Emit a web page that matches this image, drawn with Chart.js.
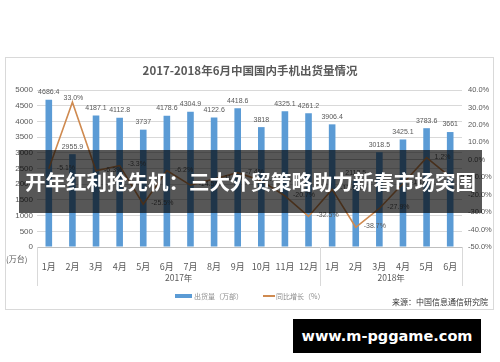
<!DOCTYPE html>
<html>
<head>
<meta charset="utf-8">
<script src="https://cdn.jsdelivr.net/npm/chart.js@4/dist/chart.umd.min.js"></script>
<style>
  html, body { margin: 0; padding: 0; background: #fff; }
  #wrap { position: relative; width: 500px; height: 362px; }
  #banner {
    position: absolute; left: 19px; top: 150px; width: 463px; height: 63px;
    background: rgba(0, 0, 0, 0.66); color: #fff;
    font-family: "Noto Sans CJK SC", sans-serif; font-weight: bold; font-size: 20.5px;
    line-height: 63px; text-align: center; white-space: nowrap;
  }
  #mark {
    position: absolute; left: 293px; top: 319px; width: 188px; height: 34px;
    background: #000; color: #fff;
    font-family: "DejaVu Sans", sans-serif; font-weight: bold; font-size: 14.5px;
    line-height: 34px; text-align: center;
  }
</style>
</head>
<body>
<div id="wrap">
  <canvas id="chart" width="500" height="362"></canvas>
  <div id="banner">开年红利抢先机：三大外贸策略助力新春市场突围</div>
  <div id="mark">www.m-pggame.com</div>
</div>
<script>
const months = ["1月", "2月", "3月", "4月", "5月", "6月", "7月", "8月", "9月", "10月", "11月", "12月",
                "1月", "2月", "3月", "4月", "5月", "6月"];
const years = ["2017年", "2018年"];
const yearSpans = [[0, 11], [12, 17]];
const shipments = [4686.4, 2955.9, 4187.1, 4112.8, 3737, 4178.6, 4304.9, 4122.6, 4418.6, 3818, 4325.1, 4261.2,
                   3906.4, 2113.5, 3018.5, 3425.1, 3783.6, 3661];
const growth = [-5.1, 33.0, -6.3, -3.3, -25.5, -6.2, -14.5, -11.0, -7.4, -12.0, -20.7, -32.5,
                -17.0, -38.7, -27.9, -13.6, 1.2, -9.8];

const textColor = "#595959";

const extras = {
    id: "extras",
    beforeDraw(chart) {
        const ctx = chart.ctx;
        ctx.save();
        ctx.strokeStyle = "#d9d9d9";
        ctx.lineWidth = 1;
        ctx.strokeRect(5.5, 57.5, 488, 252);
        ctx.restore();
    },
    afterDraw(chart) {
        const ctx = chart.ctx;
        const x = chart.scales.x;
        const area = chart.chartArea;
        ctx.save();

        // title
        ctx.fillStyle = textColor;
        ctx.font = "bold 11.5px 'Noto Sans CJK SC'";
        ctx.textAlign = "center";
        ctx.textBaseline = "middle";
        ctx.fillText("2017-2018年6月中国国内手机出货量情况", 250, 71);

        // bar labels
        ctx.font = "7px 'Liberation Sans'";
        ctx.textBaseline = "bottom";
        chart.getDatasetMeta(0).data.forEach((el, i) => {
            ctx.fillText(String(shipments[i]), el.x, el.y - 4);
        });

        // line labels
        chart.getDatasetMeta(1).data.forEach((el, i) => {
            const txt = growth[i].toFixed(1) + "%";
            if (i === 1) {
                ctx.textAlign = "center";
                ctx.textBaseline = "bottom";
                ctx.fillText(txt, el.x + 1, el.y - 1);
            } else {
                ctx.textAlign = "left";
                ctx.textBaseline = "middle";
                ctx.fillText(txt, el.x + 8, el.y - 1);
            }
        });

        // unit label
        ctx.font = "8px 'Noto Sans CJK SC'";
        ctx.textAlign = "left";
        ctx.textBaseline = "middle";
        ctx.fillText("(万台)", 6, 259);

        // group separators and year labels
        const half = (x.getPixelForValue(1) - x.getPixelForValue(0)) / 2;
        ctx.strokeStyle = "#d9d9d9";
        ctx.lineWidth = 1;
        const seps = [area.left, x.getPixelForValue(11) + half, area.right];
        seps.forEach(px => {
            ctx.beginPath();
            ctx.moveTo(Math.round(px) + 0.5, area.bottom);
            ctx.lineTo(Math.round(px) + 0.5, 286);
            ctx.stroke();
        });
        ctx.font = "8.5px 'Noto Sans CJK SC'";
        ctx.textAlign = "center";
        ctx.fillStyle = textColor;
        yearSpans.forEach((s, i) => {
            const cx = (x.getPixelForValue(s[0]) + x.getPixelForValue(s[1])) / 2;
            ctx.fillText(years[i], cx, 278);
        });

        // legend
        ctx.fillStyle = "#5b9bd5";
        ctx.fillRect(175, 294, 17, 4);
        ctx.strokeStyle = "#cf8a50";
        ctx.lineWidth = 2;
        ctx.beginPath();
        ctx.moveTo(263, 296);
        ctx.lineTo(275, 296);
        ctx.stroke();
        ctx.fillStyle = "#8c8c8c";
        ctx.font = "7px 'Noto Sans CJK SC'";
        ctx.textAlign = "left";
        ctx.fillText("出货量（万部）", 194, 296);
        ctx.fillText("同比增长（%）", 276, 296);

        // source
        ctx.fillStyle = "#333";
        ctx.font = "8px 'Noto Sans CJK SC'";
        ctx.textAlign = "right";
        ctx.fillText("来源：中国信息通信研究院", 488, 302);

        ctx.restore();
    }
};

new Chart(document.getElementById("chart"), {
    data: {
        labels: months,
        datasets: [
            {
                type: "bar",
                label: "出货量（万部）",
                data: shipments,
                backgroundColor: "#5b9bd5",
                categoryPercentage: 1,
                barPercentage: 0.28,
                yAxisID: "y",
                order: 2
            },
            {
                type: "line",
                label: "同比增长（%）",
                data: growth,
                borderColor: "#cf8a50",
                borderWidth: 1.6,
                pointRadius: 0,
                tension: 0,
                fill: false,
                yAxisID: "y1",
                order: 1
            }
        ]
    },
    plugins: [extras],
    options: {
        responsive: false,
        animation: false,
        layout: { padding: { top: 90, left: 0, right: 0, bottom: 0 } },
        plugins: {
            legend: { display: false },
            title: { display: false },
            tooltip: { enabled: false }
        },
        scales: {
            x: {
                grid: { display: false },
                border: { display: true, color: "#bfbfbf" },
                ticks: {
                    color: textColor,
                    font: { size: 9, family: "'Noto Sans CJK SC'" },
                    padding: 6,
                    maxRotation: 0,
                    autoSkip: false
                },
                afterFit(s) { s.height = 115; }
            },
            y: {
                position: "left",
                min: 0,
                max: 5000,
                ticks: {
                    stepSize: 500,
                    color: textColor,
                    font: { size: 8, family: "'Liberation Sans'" },
                    padding: 4,
                    callback: v => String(v)
                },
                grid: { color: "#d9d9d9", drawTicks: false },
                border: { display: false },
                afterFit(s) { s.width = 37; }
            },
            y1: {
                position: "right",
                min: -50,
                max: 40,
                ticks: {
                    stepSize: 10,
                    color: textColor,
                    font: { size: 7.5, family: "'Liberation Sans'" },
                    padding: 6,
                    callback: v => v.toFixed(1) + "%"
                },
                grid: {
                    drawTicks: false,
                    color: c => (c.tick && c.tick.value === 0 ? "#bfbfbf" : "rgba(0,0,0,0)")
                },
                border: { display: false },
                afterFit(s) { s.width = 38; }
            }
        }
    }
});
</script>
</body>
</html>
